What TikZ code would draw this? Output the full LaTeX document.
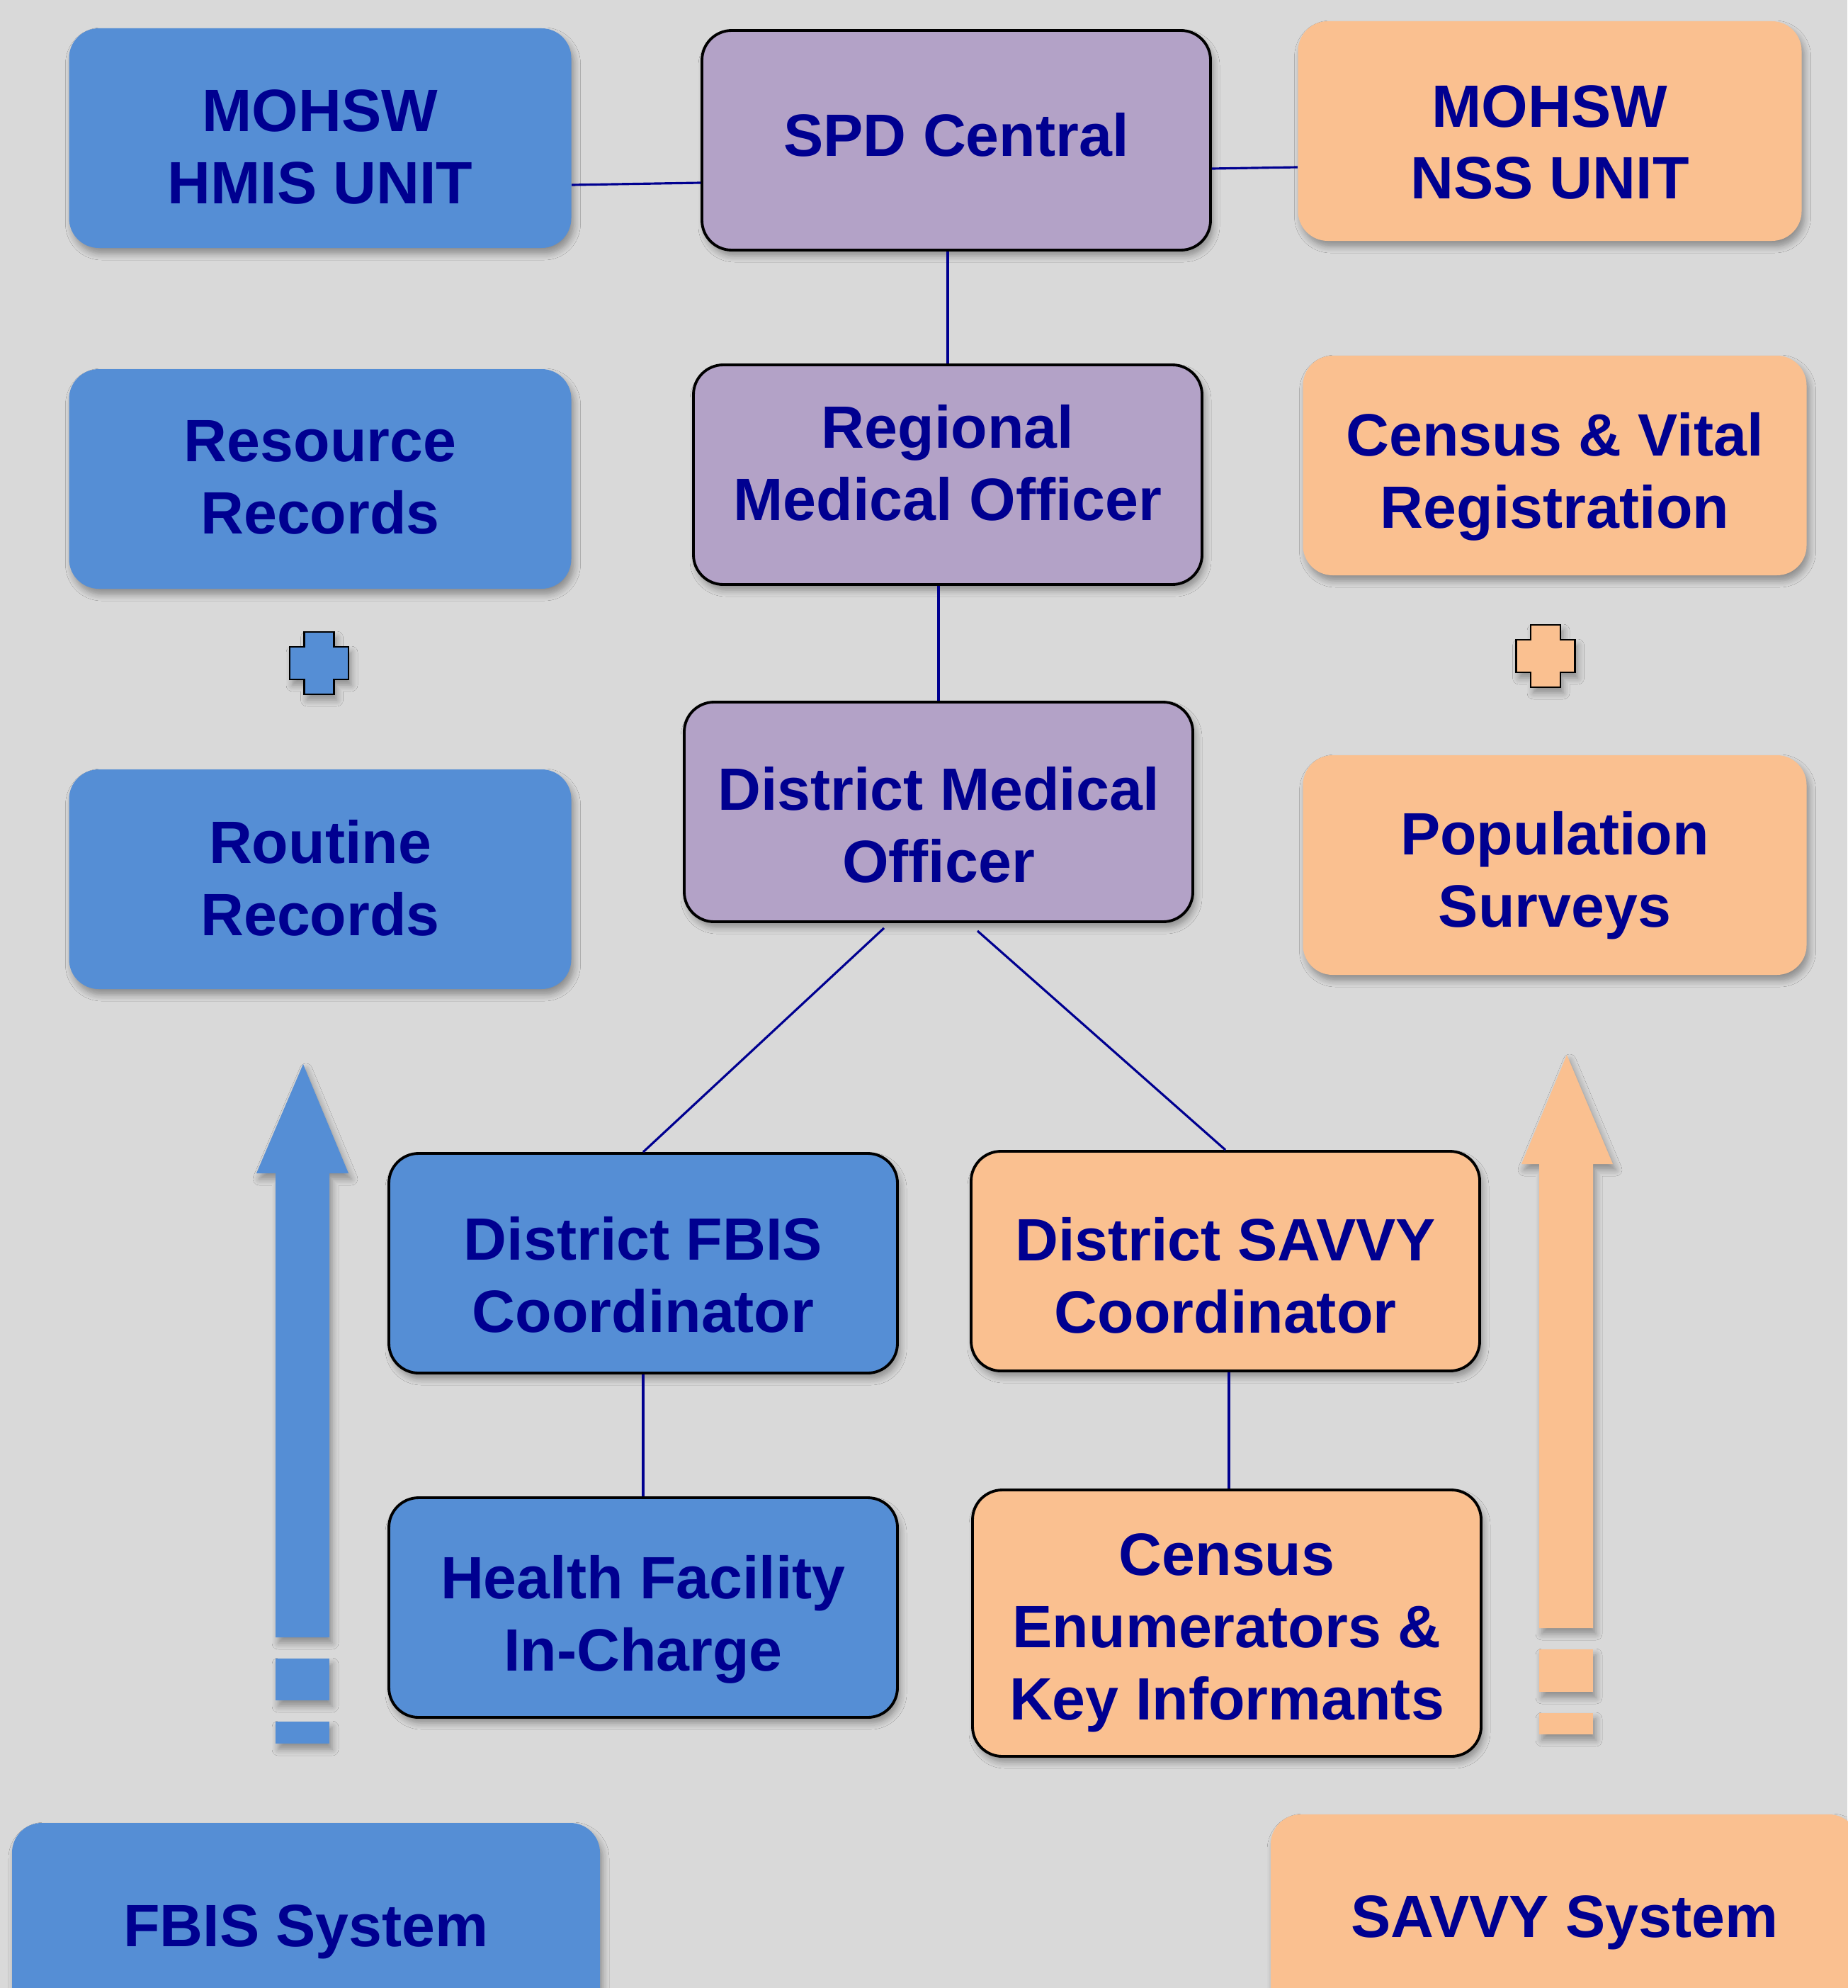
\documentclass[tikz,border=0pt]{standalone}
\usepackage{fontspec}
\setmainfont{Liberation Sans}
\usetikzlibrary{positioning, shadows.blur}

\definecolor{hmisblue}{HTML}{558ED5}
\definecolor{nssorange}{HTML}{FAC090}
\definecolor{spdpurple}{HTML}{B3A2C7}
\definecolor{slidegray}{HTML}{D9D9D9}
\definecolor{labelnavy}{HTML}{000090}

\newcommand{\boxfont}{\fontsize{24}{29}\selectfont\bfseries}
% lines of a box, dropped by #1 inside the box
\newcommand{\boxtext}[2]{\raisebox{-#1}[\height][\depth]{\begin{tabular}{@{}c@{}}#2\end{tabular}}}

\begin{document}
\begin{tikzpicture}
	[on grid,
	 softshadow/.style={blur shadow={shadow xshift=0.04cm, shadow yshift=-0.08cm,
	   shadow blur radius=0.09cm, shadow blur steps=6, shadow opacity=35}},
	 unitbox/.style={rounded corners=0.42cm, minimum width=7.18cm, minimum height=3.10cm,
	   text=labelnavy, font=\boxfont, softshadow},
	 bluebox/.style={unitbox, fill=hmisblue, minimum width=7.09cm},
	 orangebox/.style={unitbox, fill=nssorange, minimum width=7.11cm},
	 officer/.style={unitbox, fill=spdpurple, draw=black, line width=1.1pt},
	 fbisbox/.style={unitbox, fill=hmisblue, draw=black, line width=1.1pt},
	 savvybox/.style={unitbox, fill=nssorange, draw=black, line width=1.1pt},
	 systembox/.style={unitbox, minimum width=8.3cm, minimum height=2.88cm},
	 plusline/.style={draw=black, line width=0.8pt, softshadow},
	 link/.style={draw=labelnavy, line width=0.9pt}]
   \useasboundingbox (0,0) rectangle (26.08,-28.06);
   \fill[slidegray] (0,0) rectangle (26.08,-28.06);

   % FBIS column
   \node[bluebox] (hmis) at (4.52,-1.95) {\boxtext{6.1pt}{MOHSW\\HMIS UNIT}};
   \node[bluebox] (resource) [below=4.81cm of hmis] {\boxtext{1.7pt}{Resource\\Records}};
   \node[bluebox] (routine) [below=5.65cm of resource] {\boxtext{2.4pt}{Routine\\Records}};

   % central column
   \node[officer] (spd) at (13.50,-1.98) {\boxtext{0.5pt}{SPD Central}};
   \node[officer] (rmo) at (13.38,-6.70) {\boxtext{-2pt}{Regional\\Medical Officer}};
   \node[officer] (dmo) at (13.25,-11.46) {\boxtext{7.9pt}{District Medical\\Officer}};

   % SAVVY column
   \node[orangebox] (nss) at (21.88,-1.85) {\boxtext{7pt}{MOHSW\\NSS UNIT}};
   \node[orangebox] (census) at (21.95,-6.57) {\boxtext{4.8pt}{Census \& Vital\\Registration}};
   \node[orangebox] (popsurvey) [below=5.64cm of census] {\boxtext{4.5pt}{Population\\Surveys}};

   \node[fbisbox] (fbisco) at (9.08,-17.83) {\boxtext{7.3pt}{District FBIS\\Coordinator}};
   \node[fbisbox] (hfic) [below=4.86cm of fbisco] {\boxtext{5.1pt}{Health Facility\\In-Charge}};
   \node[savvybox] (savvyco) at (17.30,-17.80) {\boxtext{8.5pt}{District SAVVY\\Coordinator}};
   \node[savvybox, minimum height=3.76cm] (enum) at (17.32,-22.91)
        {\boxtext{3.9pt}{Census\\Enumerators \&\\Key Informants}};

   \node[systembox, fill=hmisblue] (fbissys) at (4.32,-27.17) {\boxtext{2.8pt}{FBIS System}};
   \node[systembox, fill=nssorange] (savvysys) at (22.09,-27.05) {\boxtext{2.6pt}{SAVVY System}};

   % plus signs
   \draw[plusline, fill=hmisblue] (4.295,-8.92) -- ++(0.42,0) -- ++(0,-0.21) -- ++(0.205,0)
        -- ++(0,-0.46) -- ++(-0.205,0) -- ++(0,-0.21) -- ++(-0.42,0) -- ++(0,0.21)
        -- ++(-0.205,0) -- ++(0,0.46) -- ++(0.205,0) -- cycle;
   \draw[plusline, fill=nssorange] (21.61,-8.82) -- ++(0.42,0) -- ++(0,-0.21) -- ++(0.205,0)
        -- ++(0,-0.46) -- ++(-0.205,0) -- ++(0,-0.21) -- ++(-0.42,0) -- ++(0,0.21)
        -- ++(-0.205,0) -- ++(0,0.46) -- ++(0.205,0) -- cycle;

   % upward arrows
   \fill[hmisblue, softshadow] (4.28,-15.02) -- (4.92,-16.56) -- (4.65,-16.56) -- (4.65,-23.11)
        -- (3.89,-23.11) -- (3.89,-16.56) -- (3.62,-16.56) -- cycle;
   \fill[hmisblue, softshadow] (3.89,-23.41) rectangle (4.65,-24.00);
   \fill[hmisblue, softshadow] (3.89,-24.30) rectangle (4.65,-24.61);
   \fill[nssorange, softshadow] (22.12,-14.89) -- (22.77,-16.43) -- (22.49,-16.43) -- (22.49,-22.98)
        -- (21.73,-22.98) -- (21.73,-16.43) -- (21.48,-16.43) -- cycle;
   \fill[nssorange, softshadow] (21.73,-23.28) rectangle (22.49,-23.88);
   \fill[nssorange, softshadow] (21.73,-24.18) rectangle (22.49,-24.48);

    \path[link]
    ([yshift=-0.66cm]hmis.east) edge ([yshift=-0.60cm]spd.west)
    ([yshift=-0.40cm]spd.east) edge ([yshift=-0.51cm]nss.west)
    (rmo.north |- spd.south) edge (rmo.north)
    (dmo.north |- rmo.south) edge (dmo.north)
    ([xshift=-0.77cm,yshift=-0.07cm]dmo.south) edge (fbisco.north)
    ([xshift=0.55cm,yshift=-0.11cm]dmo.south) edge (savvyco.north)
    (fbisco.south) edge (hfic.north)
    ([xshift=0.05cm]savvyco.south) edge ([xshift=0.05cm]savvyco.south |- enum.north);

\end{tikzpicture}
\end{document}
